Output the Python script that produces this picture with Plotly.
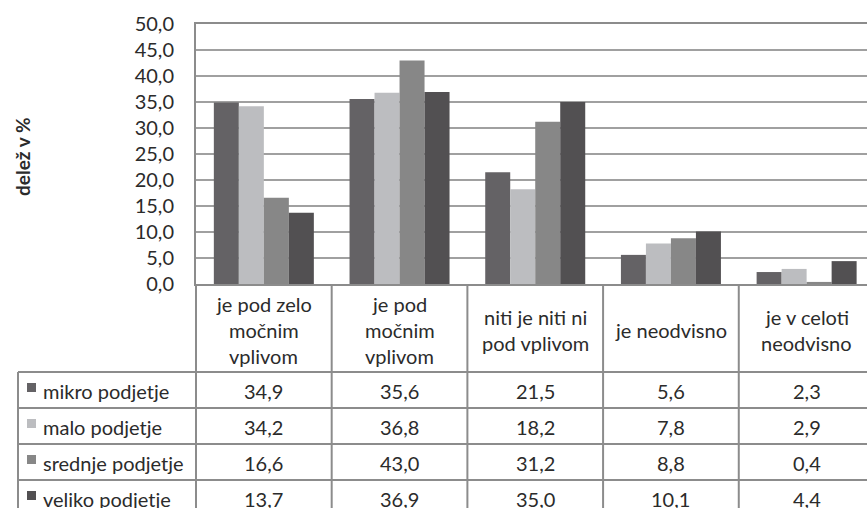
import plotly.graph_objects as go

# --- data -------------------------------------------------------------
categories = [
    "je pod zelo<br>močnim<br>vplivom",
    "je pod<br>močnim<br>vplivom",
    "niti je niti ni<br>pod vplivom",
    "je neodvisno",
    "je v celoti<br>neodvisno",
]
series_names = ["mikro podjetje", "malo podjetje", "srednje podjetje", "veliko podjetje"]
mikro = [34.9, 35.6, 21.5, 5.6, 2.3]
malo = [34.2, 36.8, 18.2, 7.8, 2.9]
srednje = [16.6, 43.0, 31.2, 8.8, 0.4]
veliko = [13.7, 36.9, 35.0, 10.1, 4.4]
series_values = [mikro, malo, srednje, veliko]
y_ticks = [0, 5, 10, 15, 20, 25, 30, 35, 40, 45, 50]
y_title = "delež v %"

colors = ["#646265", "#bcbdc0", "#878787", "#525052"]
FONT = "Lato"
FS = 20
TXT = "#2b2b2b"
GRID = "#a0a0a0"
LINE = "#8c8c8c"

W, H = 867, 508
L, T, B = 196, 24, 224          # plot area: x 196..867, y 24..284
PW, PH = W - L, H - T - B


def px(x):  # pixel -> paper x
    return (x - L) / PW


def py(y):  # pixel -> paper y
    return (H - B - y) / PH


fig = go.Figure()
for name, vals, c in zip(series_names, series_values, colors):
    fig.add_trace(go.Bar(x=categories, y=vals, name=name,
                         marker=dict(color=c, line=dict(width=0))))

# header row (category labels), one annotation per line
for cat in categories:
    lines = cat.split("<br>")
    n = len(lines)
    for k, ln in enumerate(lines):
        fig.add_annotation(x=cat, xref="x", y=py(330 + (k - (n - 1) / 2) * 26), yref="paper",
                           text=ln, showarrow=False, xanchor="center", yanchor="middle",
                           font=dict(family=FONT, size=FS, color=TXT))

# data rows
row_tops = [372, 408, 444, 480]
for r, (name, vals, c) in enumerate(zip(series_names, series_values, colors)):
    yc = row_tops[r] + 18
    for cat, v in zip(categories, vals):
        fig.add_annotation(x=cat, xref="x", y=py(yc + 1), yref="paper",
                           text=f"{v:.1f}".replace(".", ","), showarrow=False,
                           xanchor="center", yanchor="middle",
                           font=dict(family=FONT, size=FS, color=TXT))
    fig.add_annotation(x=px(41), xref="paper", y=py(yc + 1), yref="paper",
                       text=name, showarrow=False, xanchor="left", yanchor="middle",
                       font=dict(family=FONT, size=FS, color=TXT))
    fig.add_shape(type="rect", xref="paper", yref="paper",
                  x0=px(27), x1=px(36), y0=py(yc - 7), y1=py(yc + 2),
                  fillcolor=c, line=dict(width=0))

# table lines
for r in row_tops:
    fig.add_shape(type="line", xref="paper", yref="paper",
                  x0=px(18), x1=1.01, y0=py(r), y1=py(r),
                  line=dict(color=LINE, width=2))
fig.add_shape(type="line", xref="paper", yref="paper",
              x0=px(18), x1=px(18), y0=py(372), y1=py(H + 20),
              line=dict(color=LINE, width=2))
fig.add_shape(type="line", xref="paper", yref="paper",
              x0=0, x1=0, y0=0, y1=py(H + 20),
              line=dict(color=LINE, width=2))
for i in range(1, len(categories)):
    fig.add_shape(type="line", xref="x", yref="paper",
                  x0=i - 0.5, x1=i - 0.5, y0=0, y1=py(H + 20),
                  line=dict(color=LINE, width=2))

fig.add_annotation(x=px(22), xref="paper", y=py(157), yref="paper",
                   text=f"<b>{y_title}</b>", textangle=-90, showarrow=False,
                   xanchor="center", yanchor="middle",
                   font=dict(family=FONT, size=19, color=TXT))

fig.update_xaxes(range=[-0.5, 4.445], showticklabels=False, ticks="",
                 showline=True, mirror=True, linecolor=LINE, linewidth=2,
                 showgrid=False, zeroline=False)
fig.update_yaxes(range=[0, 50], tickvals=y_ticks,
                 ticktext=[f"{v:.1f}".replace(".", ",") for v in y_ticks],
                 showline=True, linecolor=LINE, linewidth=2,
                 showgrid=True, gridcolor=GRID, gridwidth=2, zeroline=False,
                 ticks="", ticklabelstandoff=16,
                 tickfont=dict(family=FONT, size=FS, color=TXT))
fig.update_layout(width=W, height=H, margin=dict(l=L, r=0, t=T, b=B),
                  barmode="group", bargap=0.263, bargroupgap=0,
                  showlegend=False, plot_bgcolor="white", paper_bgcolor="white",
                  font=dict(family=FONT, color=TXT))

# page body has a default 8px margin; drop it so the figure fills the window
fig.write_html("out.html", config={"displayModeBar": False},
               post_script="document.body.style.margin='0';")
